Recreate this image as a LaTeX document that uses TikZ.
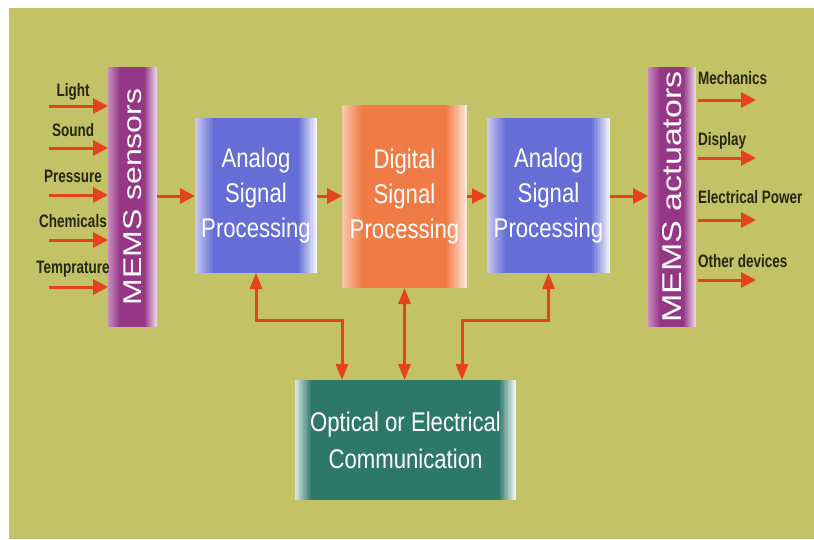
\documentclass[tikz,border=0pt]{standalone}
\usepackage{fontspec}
\setmainfont{Liberation Sans}
\usepackage{graphicx}
\usetikzlibrary{arrows.meta}

\definecolor{bgolive}{HTML}{C4C266}
\definecolor{arrowred}{HTML}{E5421F}
\definecolor{labelink}{HTML}{26260F}
\definecolor{blueM}{HTML}{646ED6}
\definecolor{blueL}{HTML}{C8C8EE}
\definecolor{blueR}{HTML}{F4F4FB}
\definecolor{orangeM}{HTML}{F07B45}
\definecolor{orangeL}{HTML}{F8C8A8}
\definecolor{orangeR}{HTML}{FCE6DA}
\definecolor{tealM}{HTML}{2E786A}
\definecolor{tealL}{HTML}{D8E8E2}
\definecolor{tealR}{HTML}{F0F6F2}
\definecolor{purpleM}{HTML}{953786}
\definecolor{purpleL}{HTML}{C88CBE}
\definecolor{purpleR}{HTML}{EAD0E4}

% condensed lettering
\newcommand\nx[1]{\scalebox{0.82}[1]{#1}}
\newcommand\nxb[1]{\scalebox{0.75}[1]{\bfseries #1}}

\begin{document}
\begin{tikzpicture}[x=1pt,y=-1pt,
  % flat fill with soft light bands fading in from the left and right sides
  fadebox/.style n args={4}{fill=#1, draw=none, inner sep=0pt, outer sep=0pt,
    path picture={
      \foreach \i [evaluate=\i as \p using {100-100*\i/12}] in {0,...,11} {
        \fill[#2!\p!#1]
          ([xshift={\i*#4/12}]path picture bounding box.north west)
          rectangle ([xshift={(\i+1)*#4/12+0.3pt}]path picture bounding box.south west);
        \fill[#3!\p!#1]
          ([xshift={-\i*#4/12}]path picture bounding box.north east)
          rectangle ([xshift={-(\i+1)*#4/12-0.3pt}]path picture bounding box.south east);
      }
    }},
  block/.style={text=white, align=center, font=\fontsize{27}{35}\selectfont},
  barlabel/.style={text=white, rotate=90, inner sep=0pt},
  inlabel/.style={text=labelink, font=\fontsize{18}{20}\selectfont, inner sep=0pt},
  flow/.style={draw=arrowred, line width=3pt, -{Triangle[length=15pt,width=15pt]}},
  twoway/.style={draw=arrowred, line width=3pt,
    {Triangle[length=16pt,width=12pt]}-{Triangle[length=16pt,width=12pt]}},
]
\useasboundingbox (0,0) rectangle (814,539);
\fill[white] (0,0) rectangle (814,539);
\fill[bgolive] (9,8) rectangle (814,539);

% sensor and actuator bars
\node[fadebox={purpleM}{purpleL}{purpleR}{12pt}, minimum width=49pt, minimum height=260pt]
  (sensors) at (132.5,197) {};
\node[barlabel, font=\fontsize{32}{32}\selectfont] (sensorstext) at (sensors.center)
  {\scalebox{1}[0.8]{MEMS sensors}};
\node[fadebox={purpleM}{purpleL}{purpleR}{12pt}, minimum width=48pt, minimum height=260pt]
  (actuators) at (672,197) {};
\node[barlabel, font=\fontsize{34}{34}\selectfont] (actuatorstext) at (actuators.center)
  {\scalebox{1}[0.8]{MEMS actuators}};

% processing blocks
\node[fadebox={blueM}{blueL}{blueR}{18pt}, block, minimum width=122pt, minimum height=155pt]
  (asp1) at (256,195.5) {\nx{Analog}\\\nx{Signal}\\\nx{Processing}};
\node[fadebox={orangeM}{orangeL}{orangeR}{20pt}, block, minimum width=125pt, minimum height=183pt]
  (dsp) at (404.5,196.5) {\nx{Digital}\\\nx{Signal}\\\nx{Processing}};
\node[fadebox={blueM}{blueL}{blueR}{18pt}, block, minimum width=123pt, minimum height=155pt]
  (asp2) at (548.5,195.5) {\nx{Analog}\\\nx{Signal}\\\nx{Processing}};
\node[fadebox={tealM}{tealL}{tealR}{16pt}, block, minimum width=221pt, minimum height=120pt,
  font=\fontsize{27}{37}\selectfont]
  (comm) at (405.5,440) {\nx{Optical or Electrical}\\\nx{Communication}};

% input quantities
\foreach \name/\txt/\base/\ay in {light/Light/96/106, sound/Sound/136/148,
    pressure/Pressure/182/195, chem/Chemicals/227/240, temp/Temprature/273/287} {
  \node[inlabel, anchor=base] (\name) at (73,\base) {\nxb{\txt}};
  \coordinate (\name in) at (49,\ay);
  \draw[flow] (\name in) -- (\name in -| sensors.west);
}

% output quantities
\foreach \name/\txt/\base/\ay in {mech/Mechanics/84/100, disp/Display/145/158,
    power/Electrical Power/203/220, other/Other devices/267/280} {
  \node[inlabel, anchor=base west] (\name) at (698,\base) {\nxb{\txt}};
  \coordinate (\name out) at (756,\ay);
  \draw[flow, shorten <=2pt] (\name out -| actuators.east) -- (\name out);
}

% signal chain
\draw[flow] (sensors.east |- 0,196) -- (asp1.west |- 0,196);
\draw[flow] (asp1.east |- 0,196) -- (dsp.west |- 0,196);
\draw[flow] (dsp.east |- 0,196) -- (asp2.west |- 0,196);
\draw[flow] (asp2.east |- 0,196) -- (actuators.west |- 0,196);

% links to the communication block
\coordinate (jl) at (342,320);
\coordinate (jr) at (462,320);
\draw[twoway] (asp1.south) |- (jl) -- (jl |- comm.north);
\draw[twoway] (dsp.south) -- (dsp.south |- comm.north);
\draw[twoway] (asp2.south) |- (jr) -- (jr |- comm.north);
\end{tikzpicture}
\end{document}
